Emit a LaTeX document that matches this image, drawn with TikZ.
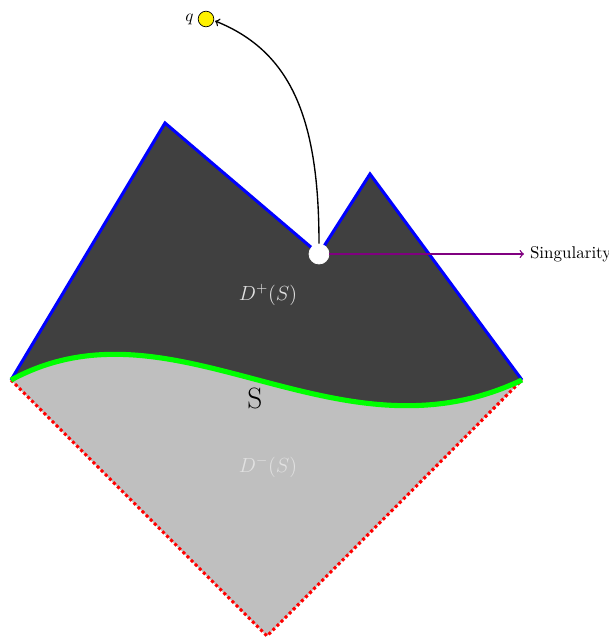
\documentclass[tikz,border=0pt]{standalone}
\usepackage{amsmath,amssymb}
\usetikzlibrary{shapes,arrows,positioning,calc}
\usepackage{xcolor}
\definecolor{darkregion}{RGB}{64,64,64}
\definecolor{lightregion}{RGB}{191,191,191}
\definecolor{labelgray}{RGB}{225,225,225}
\definecolor{singviolet}{RGB}{128,0,128}

\begin{document}
\begin{tikzpicture}[
    x=0.588pt, y=-0.588pt,
    every node/.style={font=\normalsize},
    horizon/.style={blue, line width=1.8pt, line join=miter},
    cauchy/.style={green, line width=3pt},
    past/.style={red, line width=1.8pt, dash pattern=on 1.8pt off 1.6pt},
    region/.style={text=labelgray, font=\large},
    point/.style={circle, draw, inner sep=0pt},
    arrow/.style={->, thick}
]
    \useasboundingbox (0,0) rectangle (609,639);

    % Corners
    \coordinate (left) at (11,380);
    \coordinate (right) at (522,380);
    \coordinate (bottom) at (267,636);
    \coordinate (peakL) at (165,123);
    \coordinate (peakR) at (370,174);
    \coordinate (valley) at (319,254);

    % Regions
    \fill[lightregion] (left) .. controls (175,291) and (335,469) .. (right) -- (bottom) -- cycle;
    \fill[darkregion] (left) -- (peakL) -- (valley) -- (peakR) -- (right)
        .. controls (335,469) and (175,291) .. (left) -- cycle;

    % Boundaries
    \draw[past] (left) -- (bottom) -- (right);
    \draw[horizon] (left) -- (peakL) -- (valley) -- (peakR) -- (right);
    \draw[cauchy] (left) .. controls (175,291) and (335,469) .. (right);

    % Labels
    \node[region] (dplus) at (268,295) {$D^{+}(S)$};
    \node[region] (dminus) at (268,467) {$D^{-}(S)$};
    \node[font=\LARGE] (slabel) at (255,398) {S};

    % Singularity and observer
    \node[point, fill=white, draw=white, minimum size=11.8pt] (sing) at (valley) {};
    \node[anchor=west] (singtext) at (524,254) {Singularity};
    \node[point, fill=yellow, draw=black, thin, minimum size=9.2pt] (q) at (206,19) {};
    \node[left=-1pt of q] (qlabel) {$q$};

    % Edges
    \draw[arrow, singviolet] (sing.east) -- (sing.east -| singtext.west);
    \draw[arrow] (sing.north) .. controls (319,120) and (292,52) .. ($(q.east)+(1,2)$);
\end{tikzpicture}
\end{document}
